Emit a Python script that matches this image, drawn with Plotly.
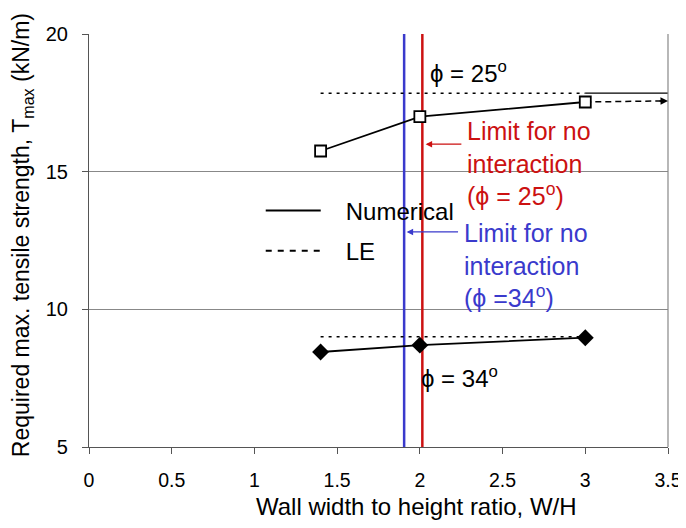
import plotly.graph_objects as go

# ---- data ----
ratio = [1.4, 2.0, 3.0]
num_phi25 = [15.75, 17.0, 17.53]
le_phi25 = [17.85, 17.85, 17.85]
num_phi34 = [8.45, 8.7, 8.97]
le_phi34 = [9.0, 9.0, 9.0]
ext_x = [3.0, 3.5]
ext_num25 = [17.53, 17.57]
le25_ext_x = [3.0, 3.5]
le25_ext_y = [17.85, 17.85]
limit_phi25 = 2.015
limit_phi34 = 1.905
x_ticks = [0, 0.5, 1, 1.5, 2, 2.5, 3, 3.5]
x_tick_text = ["0", "0.5", "1", "1.5", "2", "2.5", "3", "3.5"]
y_ticks = [5, 10, 15, 20]

RED = "#cc1111"
BLUE = "#3a3acc"
FONT = "Liberation Sans, Arial, sans-serif"
NB = "\u00a0"

fig = go.Figure()

# limit lines
fig.add_trace(go.Scatter(x=[limit_phi34, limit_phi34], y=[5, 20], mode="lines",
                         line=dict(color=BLUE, width=2.5), showlegend=False, hoverinfo="skip"))
fig.add_trace(go.Scatter(x=[limit_phi25, limit_phi25], y=[5, 20], mode="lines",
                         line=dict(color=RED, width=2.5), showlegend=False, hoverinfo="skip"))

# LE lines (dotted)
fig.add_trace(go.Scatter(x=ratio, y=le_phi25, mode="lines",
                         line=dict(color="black", width=1.5, dash="3px,5px"), showlegend=False))
fig.add_trace(go.Scatter(x=le25_ext_x, y=le25_ext_y, mode="lines",
                         line=dict(color="black", width=1.2), showlegend=False))
fig.add_trace(go.Scatter(x=ratio, y=le_phi34, mode="lines",
                         line=dict(color="black", width=1.5, dash="3px,5px"), showlegend=False))

# numerical extension (dashed arrow)
fig.add_trace(go.Scatter(x=[ext_x[0], ext_x[1] - 0.03], y=[ext_num25[0], ext_num25[1]],
                         mode="lines", line=dict(color="black", width=1.5, dash="6px,4px"),
                         showlegend=False))
fig.add_annotation(x=ext_x[1], y=ext_num25[1], ax=ext_x[1] - 0.06, ay=ext_num25[1] - 0.005,
                   xref="x", yref="y", axref="x", ayref="y", text="", showarrow=True,
                   arrowhead=2, arrowsize=1, arrowwidth=1.5, arrowcolor="black")

# numerical series
fig.add_trace(go.Scatter(x=ratio, y=num_phi25, mode="lines+markers",
                         line=dict(color="black", width=1.8),
                         marker=dict(symbol="square", size=11, color="white",
                                     line=dict(color="black", width=1.8)),
                         showlegend=False))
fig.add_trace(go.Scatter(x=ratio, y=num_phi34, mode="lines+markers",
                         line=dict(color="black", width=1.8),
                         marker=dict(symbol="diamond", size=13, color="black"),
                         showlegend=False))

# legend dummies
fig.add_trace(go.Scatter(x=[None], y=[None], mode="lines", name=NB * 3 + "Numerical",
                         legendgroup="a", line=dict(color="black", width=2)))
fig.add_trace(go.Scatter(x=[None], y=[None], mode="lines", name=NB * 3 + "LE",
                         legendgroup="b", line=dict(color="black", width=2, dash="6px,6px")))

# labels
fig.add_annotation(x=2.05, y=18.62, xref="x", yref="y", text="ϕ = 25<sup>o</sup>",
                   showarrow=False, xanchor="left", font=dict(size=24, color="black"))
fig.add_annotation(x=1.995, y=7.55, xref="x", yref="y", text="ϕ = 34<sup>o</sup>",
                   showarrow=False, xanchor="left", font=dict(size=24, color="black"))

fig.add_annotation(x=2.275, y=15.28, xref="x", yref="y",
                   text="Limit for no<br>interaction<br>(ϕ = 25<sup>o</sup>)",
                   showarrow=False, xanchor="left", yanchor="middle", align="left",
                   font=dict(size=25, color=RED))
fig.add_annotation(x=2.035, y=16.0, ax=2.26, ay=16.0, xref="x", yref="y", axref="x", ayref="y",
                   text="", showarrow=True, arrowhead=2, arrowsize=1, arrowwidth=1.3,
                   arrowcolor=RED)

fig.add_annotation(x=2.255, y=11.61, xref="x", yref="y",
                   text="Limit for no<br>interaction<br>(ϕ =34<sup>o</sup>)",
                   showarrow=False, xanchor="left", yanchor="middle", align="left",
                   font=dict(size=25, color=BLUE))
fig.add_annotation(x=1.92, y=12.81, ax=2.24, ay=12.81, xref="x", yref="y", axref="x", ayref="y",
                   text="", showarrow=True, arrowhead=2, arrowsize=1, arrowwidth=1.3,
                   arrowcolor=BLUE)

# axis titles (placed where the reference has them)
fig.add_annotation(x=0.5655, y=-0.145, xref="paper", yref="paper",
                   text="Wall width to height ratio, W/H", showarrow=False,
                   xanchor="center", yanchor="middle", font=dict(size=24))
fig.add_annotation(x=-0.1147, y=0.512, xref="paper", yref="paper", textangle=-90,
                   text="Required max. tensile strength, T<sub>max</sub> (kN/m)",
                   showarrow=False, xanchor="center", yanchor="middle", font=dict(size=23))

# the page body has an 8px margin, so the figure is 8px smaller on each side
fig.update_layout(
    width=678, height=520,
    margin=dict(l=80.5, r=18, t=26, b=81),
    paper_bgcolor="white", plot_bgcolor="white",
    font=dict(family=FONT, color="black", size=20),
    legend=dict(x=0.2966, y=0.626, xanchor="left", yanchor="top",
                bgcolor="rgba(0,0,0,0)", font=dict(size=24),
                itemwidth=55, tracegroupgap=6),
    xaxis=dict(range=[0, 3.5], tickvals=x_ticks, ticktext=x_tick_text,
               showgrid=False, zeroline=False, showline=True, linecolor="#555",
               linewidth=1.2, ticks="outside", ticklen=6, tickcolor="#555",
               tickfont=dict(size=19.5), ticklabelstandoff=9, automargin=False,
               ticklabeloverflow="allow"),
    yaxis=dict(range=[5, 20], tickvals=y_ticks, showgrid=True, gridcolor="#888",
               gridwidth=1.2, zeroline=False, showline=True, linecolor="#555",
               linewidth=1.2, ticks="outside", ticklen=6, tickcolor="#555",
               tickfont=dict(size=20), ticklabelstandoff=10, automargin=False,
               ticklabeloverflow="allow"),
)

# right border of the plot area
fig.add_shape(type="line", xref="paper", yref="paper", x0=1, x1=1, y0=0, y1=1,
              line=dict(color="#888", width=1.2))

fig.write_html("out.html")
